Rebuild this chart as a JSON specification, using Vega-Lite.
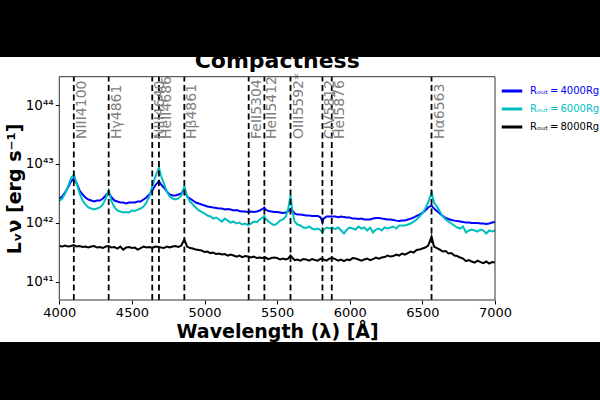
{
  "$schema": "https://vega.github.io/schema/vega-lite/v6.json",
  "width": 600,
  "height": 285,
  "autosize": {"type": "none"},
  "padding": {"top": 57, "bottom": 58, "left": 0, "right": 0},
  "background": "black",
  "view": {"fill": "white", "stroke": null},
  "config": {"font": "DejaVu Sans"},
  "title": {"text": "Compactness", "fontSize": 22, "fontWeight": "bold", "anchor": "middle", "frame": "group", "color": "black", "offset": -16, "dx": -22.8},
  "datasets": {
    "spectra": [
      {"w":4000,"R4000":2.59e42,"R6000":2.35e42,"R8000":4.03e41},
      {"w":4020,"R4000":2.80e42,"R6000":2.59e42,"R8000":3.95e41},
      {"w":4040,"R4000":3.28e42,"R6000":3.15e42,"R8000":4.11e41},
      {"w":4060,"R4000":3.98e42,"R6000":4.14e42,"R8000":3.95e41},
      {"w":4080,"R4000":5.04e42,"R6000":5.67e42,"R8000":4.03e41},
      {"w":4100,"R4000":5.67e42,"R6000":6.63e42,"R8000":4.19e41},
      {"w":4120,"R4000":4.66e42,"R6000":4.66e42,"R8000":3.95e41},
      {"w":4140,"R4000":3.54e42,"R6000":3.15e42,"R8000":4.03e41},
      {"w":4160,"R4000":3.03e42,"R6000":2.39e42,"R8000":3.88e41},
      {"w":4180,"R4000":2.69e42,"R6000":2.05e42,"R8000":3.95e41},
      {"w":4200,"R4000":2.49e42,"R6000":1.82e42,"R8000":3.80e41},
      {"w":4220,"R4000":2.39e42,"R6000":1.75e42,"R8000":3.95e41},
      {"w":4240,"R4000":2.30e42,"R6000":1.68e42,"R8000":4.03e41},
      {"w":4260,"R4000":2.39e42,"R6000":1.75e42,"R8000":3.80e41},
      {"w":4280,"R4000":2.39e42,"R6000":1.82e42,"R8000":3.88e41},
      {"w":4300,"R4000":2.59e42,"R6000":2.05e42,"R8000":3.73e41},
      {"w":4320,"R4000":2.91e42,"R6000":2.59e42,"R8000":3.95e41},
      {"w":4340,"R4000":3.28e42,"R6000":3.54e42,"R8000":4.03e41},
      {"w":4360,"R4000":2.69e42,"R6000":2.30e42,"R8000":3.80e41},
      {"w":4380,"R4000":2.39e42,"R6000":1.82e42,"R8000":3.88e41},
      {"w":4400,"R4000":2.30e42,"R6000":1.62e42,"R8000":3.66e41},
      {"w":4420,"R4000":2.21e42,"R6000":1.56e42,"R8000":3.95e41},
      {"w":4440,"R4000":2.21e42,"R6000":1.50e42,"R8000":3.51e41},
      {"w":4460,"R4000":2.13e42,"R6000":1.53e42,"R8000":3.80e41},
      {"w":4480,"R4000":2.21e42,"R6000":1.50e42,"R8000":3.88e41},
      {"w":4500,"R4000":2.21e42,"R6000":1.62e42,"R8000":3.73e41},
      {"w":4520,"R4000":2.21e42,"R6000":1.59e42,"R8000":3.80e41},
      {"w":4540,"R4000":2.30e42,"R6000":1.68e42,"R8000":3.51e41},
      {"w":4560,"R4000":2.30e42,"R6000":1.75e42,"R8000":3.73e41},
      {"w":4580,"R4000":2.49e42,"R6000":1.89e42,"R8000":3.95e41},
      {"w":4600,"R4000":2.69e42,"R6000":2.21e42,"R8000":3.80e41},
      {"w":4620,"R4000":3.03e42,"R6000":2.80e42,"R8000":3.88e41},
      {"w":4640,"R4000":3.54e42,"R6000":4.14e42,"R8000":3.73e41},
      {"w":4660,"R4000":4.31e42,"R6000":5.89e42,"R8000":3.95e41},
      {"w":4686,"R4000":5.14e42,"R6000":8.72e42,"R8000":3.88e41},
      {"w":4700,"R4000":4.48e42,"R6000":6.37e42,"R8000":3.80e41},
      {"w":4720,"R4000":3.98e42,"R6000":4.66e42,"R8000":3.73e41},
      {"w":4740,"R4000":3.41e42,"R6000":3.41e42,"R8000":3.95e41},
      {"w":4760,"R4000":3.03e42,"R6000":2.80e42,"R8000":3.80e41},
      {"w":4780,"R4000":2.91e42,"R6000":2.59e42,"R8000":3.95e41},
      {"w":4800,"R4000":2.91e42,"R6000":2.49e42,"R8000":4.03e41},
      {"w":4820,"R4000":3.03e42,"R6000":2.59e42,"R8000":3.88e41},
      {"w":4840,"R4000":3.15e42,"R6000":2.91e42,"R8000":4.11e41},
      {"w":4861,"R4000":3.68e42,"R6000":4.14e42,"R8000":5.20e41},
      {"w":4880,"R4000":2.80e42,"R6000":2.80e42,"R8000":3.95e41},
      {"w":4900,"R4000":2.59e42,"R6000":2.30e42,"R8000":3.73e41},
      {"w":4920,"R4000":2.39e42,"R6000":2.05e42,"R8000":3.66e41},
      {"w":4940,"R4000":2.21e42,"R6000":1.82e42,"R8000":3.51e41},
      {"w":4960,"R4000":2.13e42,"R6000":1.62e42,"R8000":3.45e41},
      {"w":4980,"R4000":2.05e42,"R6000":1.53e42,"R8000":3.38e41},
      {"w":5000,"R4000":1.97e42,"R6000":1.44e42,"R8000":3.19e41},
      {"w":5020,"R4000":1.89e42,"R6000":1.33e42,"R8000":3.25e41},
      {"w":5040,"R4000":1.86e42,"R6000":1.28e42,"R8000":3.06e41},
      {"w":5060,"R4000":1.82e42,"R6000":1.18e42,"R8000":3.13e41},
      {"w":5080,"R4000":1.79e42,"R6000":1.23e42,"R8000":2.95e41},
      {"w":5100,"R4000":1.75e42,"R6000":1.14e42,"R8000":3.01e41},
      {"w":5120,"R4000":1.75e42,"R6000":1.05e42,"R8000":2.89e41},
      {"w":5140,"R4000":1.68e42,"R6000":1.18e42,"R8000":2.95e41},
      {"w":5160,"R4000":1.72e42,"R6000":1.09e42,"R8000":2.78e41},
      {"w":5180,"R4000":1.68e42,"R6000":1.01e42,"R8000":2.89e41},
      {"w":5200,"R4000":1.62e42,"R6000":1.05e42,"R8000":2.78e41},
      {"w":5220,"R4000":1.65e42,"R6000":9.73e41,"R8000":2.67e41},
      {"w":5240,"R4000":1.59e42,"R6000":1.01e42,"R8000":2.78e41},
      {"w":5260,"R4000":1.56e42,"R6000":9.36e41,"R8000":2.62e41},
      {"w":5280,"R4000":1.56e42,"R6000":9.73e41,"R8000":2.73e41},
      {"w":5300,"R4000":1.53e42,"R6000":9.17e41,"R8000":2.67e41},
      {"w":5320,"R4000":1.56e42,"R6000":9.73e41,"R8000":2.57e41},
      {"w":5340,"R4000":1.53e42,"R6000":1.05e42,"R8000":2.67e41},
      {"w":5360,"R4000":1.56e42,"R6000":1.03e42,"R8000":2.52e41},
      {"w":5380,"R4000":1.62e42,"R6000":1.14e42,"R8000":2.57e41},
      {"w":5400,"R4000":1.72e42,"R6000":1.23e42,"R8000":2.52e41},
      {"w":5412,"R4000":1.82e42,"R6000":1.31e42,"R8000":2.57e41},
      {"w":5420,"R4000":1.68e42,"R6000":1.18e42,"R8000":2.57e41},
      {"w":5440,"R4000":1.59e42,"R6000":1.05e42,"R8000":2.42e41},
      {"w":5460,"R4000":1.56e42,"R6000":9.73e41,"R8000":2.52e41},
      {"w":5480,"R4000":1.53e42,"R6000":9.17e41,"R8000":2.57e41},
      {"w":5500,"R4000":1.53e42,"R6000":9.73e41,"R8000":2.52e41},
      {"w":5520,"R4000":1.50e42,"R6000":1.09e42,"R8000":2.38e41},
      {"w":5540,"R4000":1.47e42,"R6000":1.14e42,"R8000":2.47e41},
      {"w":5560,"R4000":1.50e42,"R6000":1.28e42,"R8000":2.38e41},
      {"w":5575,"R4000":1.56e42,"R6000":1.68e42,"R8000":2.47e41},
      {"w":5592,"R4000":1.72e42,"R6000":2.91e42,"R8000":2.78e41},
      {"w":5605,"R4000":1.62e42,"R6000":1.56e42,"R8000":2.57e41},
      {"w":5620,"R4000":1.44e42,"R6000":1.05e42,"R8000":2.33e41},
      {"w":5640,"R4000":1.38e42,"R6000":9.36e41,"R8000":2.38e41},
      {"w":5660,"R4000":1.38e42,"R6000":9.00e41,"R8000":2.28e41},
      {"w":5680,"R4000":1.36e42,"R6000":8.32e41,"R8000":2.42e41},
      {"w":5700,"R4000":1.33e42,"R6000":8.16e41,"R8000":2.38e41},
      {"w":5720,"R4000":1.33e42,"R6000":8.65e41,"R8000":2.28e41},
      {"w":5740,"R4000":1.31e42,"R6000":8.00e41,"R8000":2.42e41},
      {"w":5760,"R4000":1.31e42,"R6000":7.69e41,"R8000":2.33e41},
      {"w":5780,"R4000":1.31e42,"R6000":8.00e41,"R8000":2.28e41},
      {"w":5800,"R4000":1.23e42,"R6000":7.40e41,"R8000":2.47e41},
      {"w":5812,"R4000":1.01e42,"R6000":6.84e41,"R8000":2.38e41},
      {"w":5820,"R4000":1.18e42,"R6000":7.69e41,"R8000":2.38e41},
      {"w":5840,"R4000":1.28e42,"R6000":8.32e41,"R8000":2.28e41},
      {"w":5860,"R4000":1.28e42,"R6000":8.00e41,"R8000":2.47e41},
      {"w":5880,"R4000":1.28e42,"R6000":8.32e41,"R8000":2.52e41},
      {"w":5900,"R4000":1.28e42,"R6000":7.84e41,"R8000":2.42e41},
      {"w":5920,"R4000":1.25e42,"R6000":8.32e41,"R8000":2.28e41},
      {"w":5940,"R4000":1.28e42,"R6000":7.40e41,"R8000":2.38e41},
      {"w":5960,"R4000":1.25e42,"R6000":6.58e41,"R8000":2.24e41},
      {"w":5980,"R4000":1.23e42,"R6000":7.69e41,"R8000":2.38e41},
      {"w":6000,"R4000":1.23e42,"R6000":8.32e41,"R8000":2.33e41},
      {"w":6020,"R4000":1.18e42,"R6000":8.00e41,"R8000":2.52e41},
      {"w":6040,"R4000":1.18e42,"R6000":7.69e41,"R8000":2.47e41},
      {"w":6060,"R4000":1.16e42,"R6000":8.65e41,"R8000":2.38e41},
      {"w":6080,"R4000":1.18e42,"R6000":8.00e41,"R8000":2.28e41},
      {"w":6100,"R4000":1.14e42,"R6000":8.32e41,"R8000":2.38e41},
      {"w":6120,"R4000":1.14e42,"R6000":7.40e41,"R8000":2.47e41},
      {"w":6140,"R4000":1.14e42,"R6000":8.32e41,"R8000":2.33e41},
      {"w":6160,"R4000":1.18e42,"R6000":6.84e41,"R8000":2.42e41},
      {"w":6180,"R4000":1.21e42,"R6000":7.69e41,"R8000":2.57e41},
      {"w":6200,"R4000":1.21e42,"R6000":8.00e41,"R8000":2.47e41},
      {"w":6220,"R4000":1.18e42,"R6000":7.40e41,"R8000":2.57e41},
      {"w":6240,"R4000":1.16e42,"R6000":8.32e41,"R8000":2.62e41},
      {"w":6260,"R4000":1.14e42,"R6000":8.00e41,"R8000":2.78e41},
      {"w":6280,"R4000":1.14e42,"R6000":8.32e41,"R8000":2.67e41},
      {"w":6300,"R4000":1.12e42,"R6000":8.65e41,"R8000":2.73e41},
      {"w":6320,"R4000":1.09e42,"R6000":8.00e41,"R8000":2.89e41},
      {"w":6340,"R4000":1.07e42,"R6000":9.00e41,"R8000":2.78e41},
      {"w":6360,"R4000":1.09e42,"R6000":9.00e41,"R8000":3.01e41},
      {"w":6380,"R4000":1.09e42,"R6000":9.00e41,"R8000":2.89e41},
      {"w":6400,"R4000":1.14e42,"R6000":9.36e41,"R8000":3.06e41},
      {"w":6420,"R4000":1.18e42,"R6000":9.73e41,"R8000":3.25e41},
      {"w":6440,"R4000":1.23e42,"R6000":1.05e42,"R8000":3.13e41},
      {"w":6460,"R4000":1.31e42,"R6000":1.14e42,"R8000":3.45e41},
      {"w":6480,"R4000":1.38e42,"R6000":1.28e42,"R8000":3.51e41},
      {"w":6500,"R4000":1.47e42,"R6000":1.44e42,"R8000":3.66e41},
      {"w":6520,"R4000":1.62e42,"R6000":1.75e42,"R8000":3.80e41},
      {"w":6540,"R4000":1.82e42,"R6000":2.21e42,"R8000":4.11e41},
      {"w":6563,"R4000":1.97e42,"R6000":3.28e42,"R8000":5.85e41},
      {"w":6580,"R4000":1.75e42,"R6000":2.21e42,"R8000":3.95e41},
      {"w":6600,"R4000":1.59e42,"R6000":1.89e42,"R8000":3.73e41},
      {"w":6620,"R4000":1.44e42,"R6000":1.56e42,"R8000":3.51e41},
      {"w":6640,"R4000":1.31e42,"R6000":1.28e42,"R8000":3.25e41},
      {"w":6660,"R4000":1.21e42,"R6000":1.14e42,"R8000":3.31e41},
      {"w":6680,"R4000":1.16e42,"R6000":1.05e42,"R8000":3.01e41},
      {"w":6700,"R4000":1.12e42,"R6000":9.73e41,"R8000":3.06e41},
      {"w":6720,"R4000":1.09e42,"R6000":9.00e41,"R8000":2.78e41},
      {"w":6740,"R4000":1.07e42,"R6000":8.32e41,"R8000":2.73e41},
      {"w":6760,"R4000":1.05e42,"R6000":8.00e41,"R8000":2.57e41},
      {"w":6780,"R4000":1.03e42,"R6000":8.65e41,"R8000":2.47e41},
      {"w":6800,"R4000":1.01e42,"R6000":6.84e41,"R8000":2.24e41},
      {"w":6820,"R4000":1.01e42,"R6000":7.40e41,"R8000":2.33e41},
      {"w":6840,"R4000":9.92e41,"R6000":7.69e41,"R8000":2.20e41},
      {"w":6860,"R4000":9.92e41,"R6000":7.40e41,"R8000":2.11e41},
      {"w":6880,"R4000":9.92e41,"R6000":7.11e41,"R8000":2.28e41},
      {"w":6900,"R4000":9.73e41,"R6000":7.69e41,"R8000":2.15e41},
      {"w":6920,"R4000":9.73e41,"R6000":7.40e41,"R8000":2.07e41},
      {"w":6940,"R4000":9.54e41,"R6000":6.58e41,"R8000":2.20e41},
      {"w":6960,"R4000":9.73e41,"R6000":7.40e41,"R8000":2.03e41},
      {"w":6980,"R4000":1.01e42,"R6000":7.11e41,"R8000":2.15e41},
      {"w":7000,"R4000":1.03e42,"R6000":7.40e41,"R8000":2.11e41}
    ],
    "features": [
      {"w":4100,"name":"NIII4100"},
      {"w":4340,"name":"Hγ4861"},
      {"w":4640,"name":"NIII4640"},
      {"w":4686,"name":"HeII4686"},
      {"w":4861,"name":"Hβ4861"},
      {"w":5304,"name":"FeII5304"},
      {"w":5412,"name":"HeII5412"},
      {"w":5592,"name":"OIII5592*"},
      {"w":5812,"name":"CIV5812"},
      {"w":5876,"name":"HeI5876"},
      {"w":6563,"name":"Hα6563"}
    ]
  },
  "layer": [
    {
      "data": {"name": "spectra"},
      "transform": [{"fold": ["R4000", "R6000", "R8000"], "as": ["model", "L"]}],
      "mark": {"type": "line", "strokeWidth": 2, "clip": true},
      "encoding": {
        "x": {
          "field": "w", "type": "quantitative",
          "scale": {"domain": [4000, 7000], "range": [59.3, 495], "nice": false, "zero": false},
          "axis": {
            "title": "Wavelength (λ) [Å]", "offset": -42,
            "values": [4000, 4500, 5000, 5500, 6000, 6500, 7000],
            "format": "d", "labelFontSize": 13, "labelColor": "black",
            "titleFontSize": 19, "titleFontWeight": "bold", "titleColor": "black",
            "tickSize": 4, "tickColor": "black", "grid": false, "domain": false,
            "labelPadding": 2, "titlePadding": 3, "labelFlush": false
          }
        },
        "y": {
          "field": "L", "type": "quantitative",
          "scale": {"type": "log", "domain": [4.89e40, 3.03e44], "range": [243, 19.7], "nice": false},
          "axis": {
            "title": "Lᵥν [erg s⁻¹]", "offset": -59.3,
            "titleX": -45, "titleBaseline": "middle",
            "values": [1e41, 1e42, 1e43, 1e44],
            "labelExpr": "datum.value < 5e41 ? '10⁴¹' : datum.value < 5e42 ? '10⁴²' : datum.value < 5e43 ? '10⁴³' : '10⁴⁴'",
            "labelFontSize": 13.5, "labelColor": "black",
            "titleFontSize": 19, "titleFontWeight": "bold", "titleColor": "black",
            "tickSize": 4, "tickColor": "black", "grid": false, "domain": false,
            "labelPadding": 2
          }
        },
        "color": {
          "field": "model", "type": "nominal",
          "scale": {"domain": ["R4000", "R6000", "R8000"], "range": ["#0000ff", "#00bfbf", "#000000"]},
          "legend": {
            "title": null, "orient": "none", "legendX": 500, "legendY": 22, "padding": 0,
            "symbolType": "stroke", "symbolStrokeWidth": 3, "symbolSize": 420,
            "labelFontSize": 10, "labelOffset": 6, "rowPadding": -4, "labelLimit": 0,
            "labelExpr": "'Rₒᵤₜ\u2009=\u2009' + slice(datum.label, 1) + 'Rg'",
            "labelColor": {"expr": "scale('color', datum.value)"}
          }
        }
      }
    },
    {
      "data": {"name": "features"},
      "mark": {"type": "rule", "strokeDash": [6, 3.5], "strokeWidth": 1.8, "color": "black"},
      "encoding": {
        "x": {"field": "w", "type": "quantitative"},
        "y": {"datum": 4.89e40},
        "y2": {"datum": 3.03e44}
      }
    },
    {
      "data": {"name": "features"},
      "mark": {"type": "text", "angle": 270, "align": "left", "baseline": "top", "fontSize": 14, "color": "#808080", "dy": 1},
      "encoding": {
        "x": {"field": "w", "type": "quantitative"},
        "y": {"datum": 2.65e43},
        "text": {"field": "name"}
      }
    },
    {
      "data": {"values": [{}]},
      "mark": {"type": "rect", "filled": false, "stroke": "#333333", "strokeWidth": 1},
      "encoding": {
        "x": {"datum": 4000},
        "x2": {"datum": 7000},
        "y": {"datum": 4.89e40},
        "y2": {"datum": 3.03e44}
      }
    }
  ]
}
